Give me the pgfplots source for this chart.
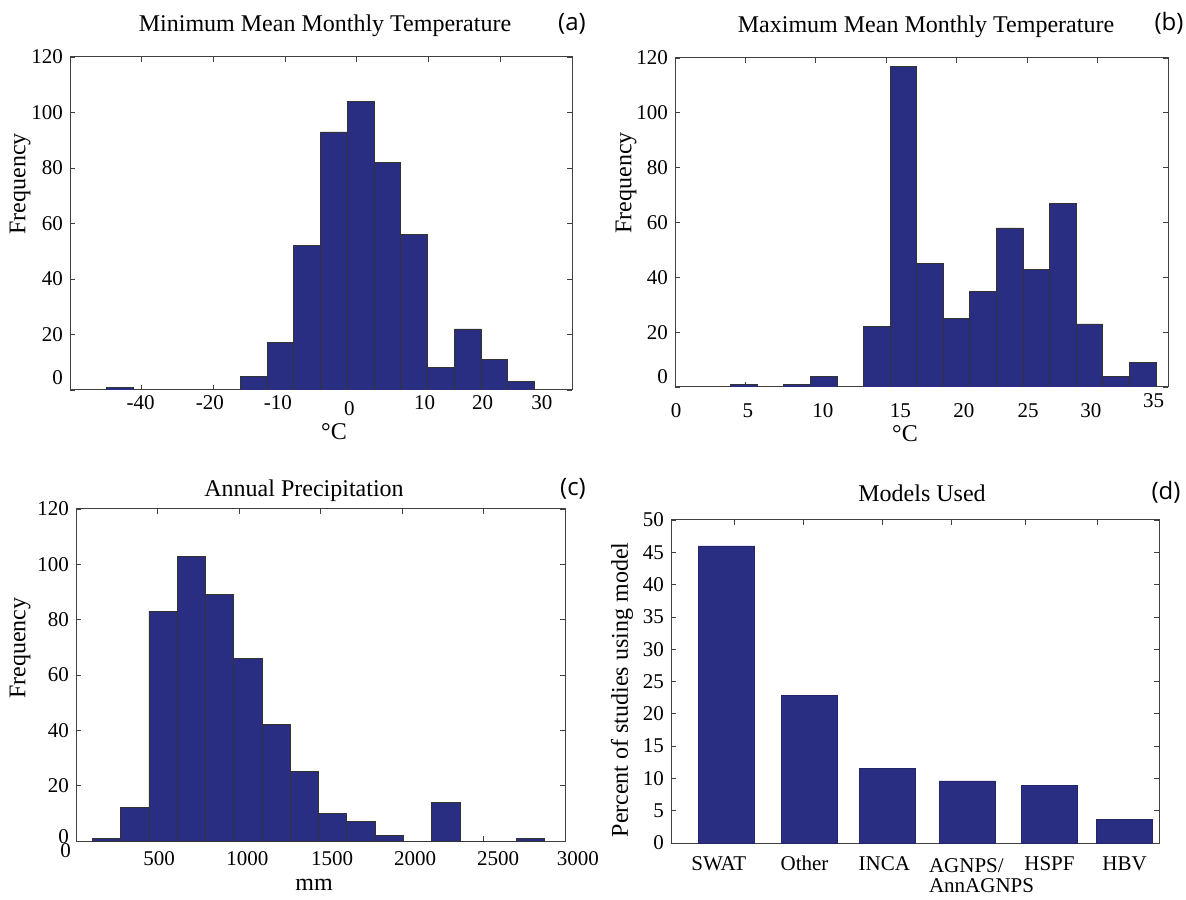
\documentclass[border=0pt]{standalone}
\usepackage{fontspec}
\setmainfont{Liberation Serif}
\newfontfamily\panelfont{Open Sans}
\usepackage{pgfplots}
\pgfplotsset{compat=1.18}
\definecolor{barblue}{RGB}{42,46,130}
\newcommand{\tl}[2]{\smash{\raisebox{-#1}{#2}}}
\newcommand{\tlx}[3]{\smash{\raisebox{-#1}{\hspace*{#2}#3\hspace*{-#2}}}}
\pgfplotsset{
  panel/.style={
    scale only axis,
    anchor=south west,
    axis line style={black!75, line width=0.5pt},
    tick style={black!75, line width=0.4pt},
    major tick length=2.5pt,
    tick align=inside,
    tick pos=both,
    ticklabel style={font=\fontsize{10.5}{12}\selectfont},
    /pgf/number format/assume math mode=true,
    xticklabels={},
    extra x tick style={major tick length=0pt},
  },
  hist/.style={ybar interval, fill=barblue, draw=black!80, line width=0.35pt},
}
\begin{document}
\begin{tikzpicture}
\path[use as bounding box] (0,0) rectangle (593pt,449.5pt);
\tikzset{ttl/.style={anchor=base, font=\fontsize{12}{14}\selectfont},
         lab/.style={font=\fontsize{12}{14}\selectfont},
         pl/.style={anchor=base, font=\panelfont\fontsize{12}{14}\selectfont}}

% (a)
\begin{axis}[panel, at={(35pt,254.5pt)}, width=251pt, height=166.5pt,
  xmin=-60, xmax=80, ymin=0, ymax=120,
  xtick={-40,-20,0,20,40,60},
  ytick={0,20,...,120}, yticklabels={\raisebox{12pt}{0},20,40,60,80,100,120},
  extra x ticks={-40.3,-21,-2,17.9,38.9,55.1,71.6},
  extra x tick labels={\tl{6.2pt}{-40},\tl{6.2pt}{-20},\tl{6.2pt}{-10},\tl{9.2pt}{0},\tl{6.2pt}{10},\tl{6.2pt}{20},\tl{6.2pt}{30}},
]
\addplot[hist] coordinates {
(-49.79,1) (-42.33,0) (-34.87,0) (-27.42,0) (-19.96,0)
(-12.50,5) (-5.04,17) (2.42,52) (9.87,93) (17.33,104) (24.79,82)
(32.25,56) (39.71,8) (47.16,22) (54.62,11) (62.08,3) (69.54,0)};
\end{axis}

% (b)
\begin{axis}[panel, at={(337.5pt,256pt)}, width=246.5pt, height=164.5pt,
  xmin=0, xmax=35, ymin=0, ymax=120,
  xtick={5,10,...,30},
  ytick={0,20,...,120}, yticklabels={\raisebox{10pt}{0},20,40,60,80,100,120},
  extra x ticks={0.08,5.17,10.5,16.0,20.5,25.06,29.52,33.98},
  extra x tick labels={\tl{11.7pt}{0},\tl{11.7pt}{5},\tl{11.7pt}{10},\tl{11.7pt}{15},\tl{11.7pt}{20},\tl{11.7pt}{25},\tl{11.7pt}{30},\tl{6.7pt}{35}},
]
\addplot[hist] coordinates {
(3.95,1) (5.84,0) (7.72,1) (9.61,4) (11.50,0) (13.39,22) (15.27,117)
(17.16,45) (19.05,25) (20.93,35) (22.82,58) (24.71,43) (26.59,67)
(28.48,23) (30.37,4) (32.26,9) (34.14,0)};
\end{axis}

% (c)
\begin{axis}[panel, at={(38pt,29pt)}, width=244.5pt, height=166pt,
  xmin=0, xmax=3000, ymin=0, ymax=120,
  xtick={500,1000,...,2500},
  ytick={0,20,...,120}, yticklabels={\raisebox{4pt}{0},20,40,60,80,100,120},
  extra x ticks={0,510,1051,1571,2081,2590,3000},
  extra x tick labels={\tlx{4.7pt}{-5.2pt}{0},\tl{8.7pt}{500},\tl{8.7pt}{1000},\tl{8.7pt}{1500},\tl{8.7pt}{2000},\tl{8.7pt}{2500},\tlx{8.7pt}{6.4pt}{3000}},
]
\addplot[hist] coordinates {
(100,1) (273.5,12) (447,83) (620.5,103) (794,89) (967.5,66) (1141,42)
(1314.5,25) (1488,10) (1661.5,7) (1835,2) (2008.5,0) (2182,14)
(2355.5,0) (2529,0) (2702.5,1) (2876,0)};
\end{axis}

% (d)
\begin{axis}[panel, at={(335.5pt,28pt)}, width=244pt, height=161.5pt,
  xmin=0.3, xmax=6.476, ymin=0, ymax=50,
  xtick={1.1,1.98,2.97,3.85,4.78,5.69},
  ytick={0,5,...,50},
  extra x ticks={0.905,1.99,3.0,4.23,5.09,6.04},
  extra x tick labels={\tl{10.2pt}{SWAT},\tl{10.2pt}{Other},\tl{10.2pt}{INCA},\tl{21.2pt}{\shortstack[l]{AGNPS/\\AnnAGNPS}},\tl{10.2pt}{HSPF},\tl{10.2pt}{HBV}},
]
\addplot[ybar, bar width=0.714, bar shift=0pt, fill=barblue, draw=barblue!80!black, line width=0.3pt] coordinates {
(1,46.0) (2.05,22.8) (3.04,11.5) (4.05,9.6) (5.09,8.9) (6.04,3.6)};
\end{axis}

% titles and labels
\node[ttl] at (162.5pt,433.5pt) {Minimum Mean Monthly Temperature};
\node[pl] at (286pt,434pt) {(a)};
\node[ttl] at (463pt,433pt) {Maximum Mean Monthly Temperature};
\node[pl] at (584.5pt,434pt) {(b)};
\node[ttl] at (152pt,201pt) {Annual Precipitation};
\node[pl] at (286.5pt,201.5pt) {(c)};
\node[ttl] at (461pt,198.5pt) {Models Used};
\node[pl] at (583pt,199.5pt) {(d)};

\node[lab, rotate=90] at (10pt,357.5pt) {Frequency};
\node[lab, rotate=90] at (313pt,358pt) {Frequency};
\node[lab, rotate=90] at (10pt,125.5pt) {Frequency};
\node[lab, rotate=90] at (311pt,104.5pt) {Percent of studies using model};

\node[lab, anchor=base] at (167pt,229.5pt) {°C};
\node[lab, anchor=base] at (452.5pt,228.5pt) {°C};
\node[lab, anchor=base] at (157pt,4.5pt) {mm};
\end{tikzpicture}
\end{document}
